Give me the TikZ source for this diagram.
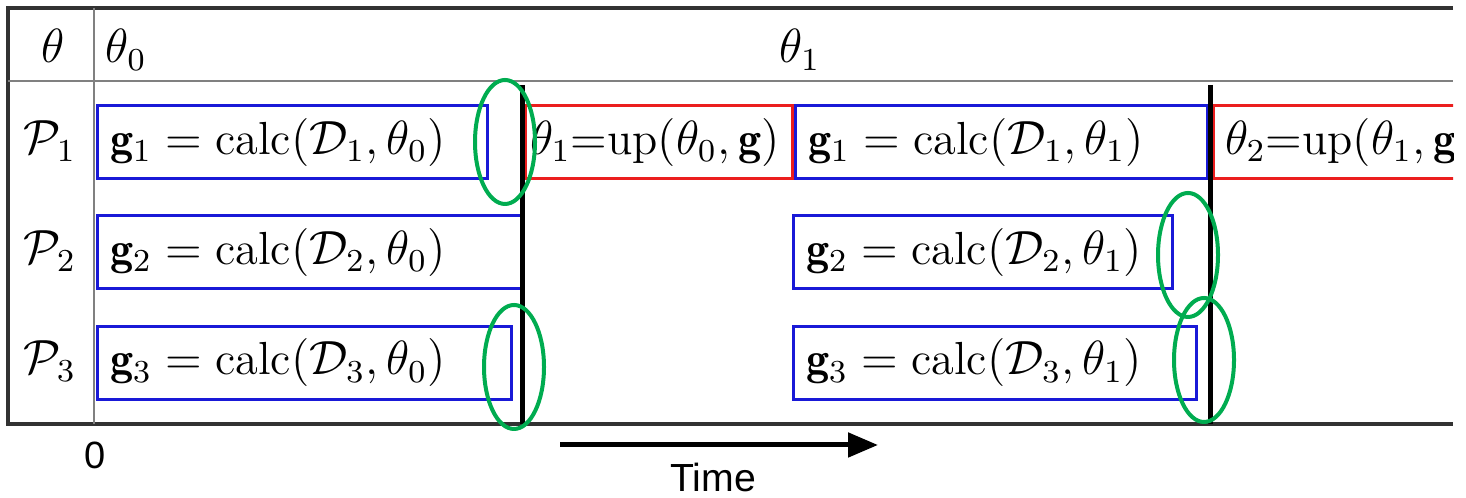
\documentclass[tikz,border=0pt]{standalone}
\usepackage{fontspec}
\newfontfamily\sansfont{Liberation Sans}
\usetikzlibrary{arrows.meta,shapes.geometric}
\definecolor{boxblue}{RGB}{25,25,215}
\definecolor{boxred}{RGB}{235,30,30}
\definecolor{ringgreen}{RGB}{0,172,80}
\definecolor{rulegray}{RGB}{50,50,50}
\newcommand{\mfs}{\fontsize{11.6}{13.5}\selectfont}
\begin{document}
\begin{tikzpicture}[x=0.25pt,y=-0.25pt,
  tablerule/.style={draw=rulegray,line width=0.8pt},
  thinrule/.style={draw=gray,line width=0.4pt},
  bluetask/.style={draw=boxblue,line width=0.75pt,rectangle,minimum height=18.25pt,inner xsep=3.25pt,inner ysep=0pt,align=left,font=\mfs},
  redtask/.style={draw=boxred,line width=0.75pt,rectangle,minimum height=18.25pt,inner ysep=0pt,align=left,font=\mfs},
  barrier/.style={draw=black,line width=1.25pt},
  ring/.style={draw=ringgreen,line width=1pt,ellipse,minimum width=15pt,minimum height=31pt,inner sep=0pt},
  lbl/.style={inner sep=0pt,font=\mfs,anchor=base}
]
\useasboundingbox (0,0) rectangle (1466,498);
% table
\coordinate (tl) at (8,8);
\coordinate (tr) at (1453,8);
\coordinate (bl) at (8,424);
\coordinate (br) at (1453,424);
\coordinate (hl) at (8,81);
\coordinate (hr) at (1453,81);
\coordinate (st) at (94,8);
\coordinate (sb) at (94,424);
\draw[tablerule] (tr) -- (tl) -- (bl) -- (br);
\draw[thinrule] (hl) -- (hr);
\draw[thinrule] (st) -- (sb);
% header labels
\node[lbl] (th) at (53,63) {$\theta$};
\node[lbl,anchor=base west] (th0) at (105,63) {$\theta_0$};
\node[lbl] (th1) at (800,63) {$\theta_1$};
\node[lbl] (p1) at (50,154) {$\mathcal{P}_1$};
\node[lbl] (p2) at (50,264) {$\mathcal{P}_2$};
\node[lbl] (p3) at (50,374) {$\mathcal{P}_3$};
% tasks
\node[bluetask,text width=91pt] (b11) at (292,142.5) {$\mathbf{g}_1 = \mathrm{calc}(\mathcal{D}_1,\theta_0)$};
\node[bluetask,text width=99.75pt] (b21) at (309.5,252.5) {$\mathbf{g}_2 = \mathrm{calc}(\mathcal{D}_2,\theta_0)$};
\node[bluetask,text width=97pt] (b31) at (304,363) {$\mathbf{g}_3 = \mathrm{calc}(\mathcal{D}_3,\theta_0)$};
\node[redtask,inner xsep=1.25pt,text width=64.25pt] (r1) at (658.5,142.5) {$\theta_1{=}\mathrm{up}(\theta_0,\mathbf{g})$};
\node[bluetask,text width=96.5pt] (b12) at (1001,142.5) {$\mathbf{g}_1 = \mathrm{calc}(\mathcal{D}_1,\theta_1)$};
\node[bluetask,text width=88.25pt] (b22) at (982.5,252.5) {$\mathbf{g}_2 = \mathrm{calc}(\mathcal{D}_2,\theta_1)$};
\node[bluetask,text width=94.25pt] (b32) at (994.5,363) {$\mathbf{g}_3 = \mathrm{calc}(\mathcal{D}_3,\theta_1)$};
\begin{scope}
\clip (1200,90) rectangle (1453,200);
\node[redtask,inner xsep=3pt,text width=65.75pt] (r2) at (1356.5,142.5) {$\theta_2{=}\mathrm{up}(\theta_1,\mathbf{g})$};
\end{scope}
% barriers
\coordinate (s1t) at (522,85);
\coordinate (s1b) at (522,424);
\coordinate (s2t) at (1210,85);
\coordinate (s2b) at (1210,424);
\draw[barrier] (s1t) -- (s1b);
\draw[barrier] (s2t) -- (s2b);
% rings
\node[ring] (e1) at (505,142) {};
\node[ring] (e2) at (514,367) {};
\node[ring] (e3) at (1188,255) {};
\node[ring] (e4) at (1204,360) {};
% time axis
\node[inner sep=0pt,font=\sansfont\fontsize{9.5}{11}\selectfont] (zero) at (95,455) {0};
\coordinate (a0) at (560,445);
\coordinate (a1) at (878,445);
\draw[line width=1.25pt,-{Triangle[length=7.5pt,width=6pt]}] (a0) -- (a1);
\node[inner sep=0pt,font=\sansfont\fontsize{9.8}{12}\selectfont] (time) at (713,478) {Time};
\end{tikzpicture}
\end{document}
